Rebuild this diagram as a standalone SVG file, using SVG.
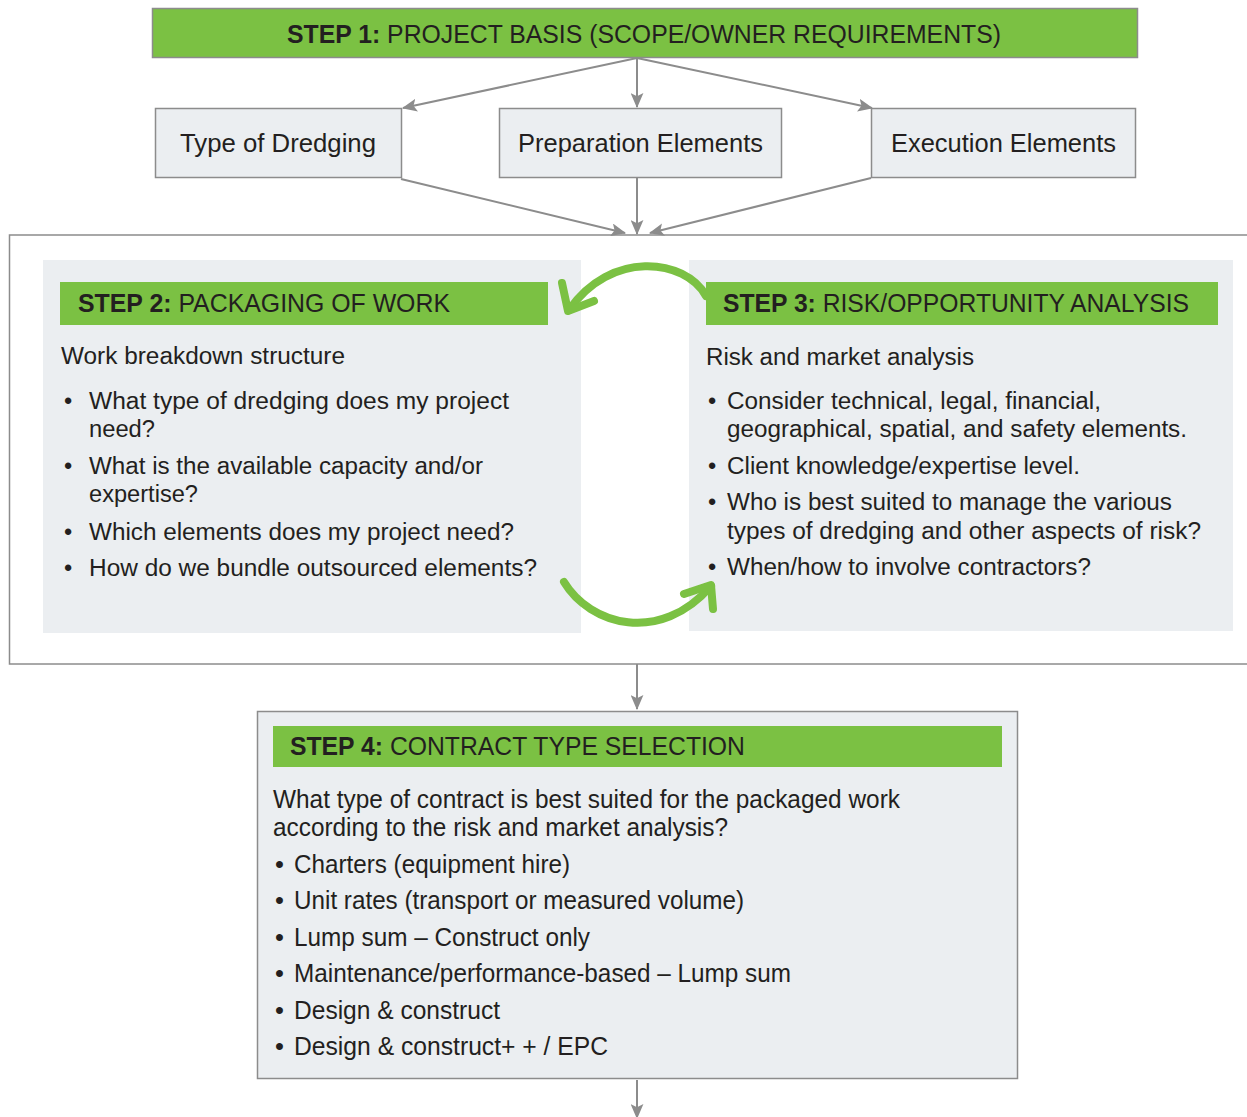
<svg xmlns="http://www.w3.org/2000/svg" width="1247" height="1117" viewBox="0 0 1247 1117">
<style>
text{font-family:"Liberation Sans",Arial,sans-serif;fill:#231f20;}
.hd{font-size:26px;}
.b{font-weight:bold;}
.lbl{font-size:26px;}
.bd{font-size:23.5px;}
.s4{font-size:25.5px;}
.box{fill:#ebeef1;stroke:#8c8c8c;stroke-width:1.5;}
.panel{fill:#ebeef1;}
.green{fill:#7bc143;}
.con{stroke:#8c8c8c;stroke-width:2;fill:none;}
.curve{stroke:#7bc143;stroke-width:8;fill:none;stroke-linecap:round;stroke-linejoin:round;}
</style>
<defs>
<marker id="ah" viewBox="0 0 14 12" refX="13" refY="6" markerWidth="15" markerHeight="13" markerUnits="userSpaceOnUse" orient="auto">
<path d="M0,0 L14,6 L0,12 L3,6 z" fill="#8c8c8c"/>
</marker>
</defs>
<rect width="1247" height="1117" fill="#ffffff"/>

<g id="outer-frame">
<rect x="9.5" y="235" width="1250" height="429" fill="#ffffff" stroke="#8c8c8c" stroke-width="1.5"/>
</g>

<g id="connectors">
<line class="con" x1="637" y1="58" x2="403" y2="108" marker-end="url(#ah)"/>
<line class="con" x1="637" y1="58" x2="637" y2="107" marker-end="url(#ah)"/>
<line class="con" x1="637" y1="58" x2="872" y2="108" marker-end="url(#ah)"/>
<line class="con" x1="401" y1="179" x2="625" y2="233" marker-end="url(#ah)"/>
<line class="con" x1="637" y1="177" x2="637" y2="234" marker-end="url(#ah)"/>
<line class="con" x1="871" y1="178" x2="650" y2="233" marker-end="url(#ah)"/>
<line class="con" x1="637" y1="664" x2="637" y2="709" marker-end="url(#ah)"/>
<line class="con" x1="637" y1="1080" x2="637" y2="1118" marker-end="url(#ah)"/>
</g>

<g id="step1">
<rect x="152.5" y="8.5" width="985" height="49" class="green" stroke="#8c8c8c" stroke-width="1.5"/>
<text class="hd" x="287" y="43" textLength="714" lengthAdjust="spacingAndGlyphs"><tspan class="b">STEP 1:</tspan> PROJECT BASIS (SCOPE/OWNER REQUIREMENTS)</text>
</g>

<g id="type-of-dredging">
<rect class="box" x="155.5" y="108.5" width="246" height="69"/>
<text class="lbl" x="180" y="152" textLength="196" lengthAdjust="spacingAndGlyphs">Type of Dredging</text>
</g>
<g id="preparation-elements">
<rect class="box" x="499.5" y="108.5" width="282" height="69"/>
<text class="lbl" x="518" y="152" textLength="245" lengthAdjust="spacingAndGlyphs">Preparation Elements</text>
</g>
<g id="execution-elements">
<rect class="box" x="871.5" y="108.5" width="264" height="69"/>
<text class="lbl" x="891" y="152" textLength="225" lengthAdjust="spacingAndGlyphs">Execution Elements</text>
</g>

<g id="step2">
<rect class="panel" x="43" y="260" width="538" height="373"/>
<rect class="green" x="60" y="282" width="488" height="43"/>
<text class="hd" x="78" y="312" textLength="372" lengthAdjust="spacingAndGlyphs"><tspan class="b">STEP 2:</tspan> PACKAGING OF WORK</text>
<text class="bd" x="61" y="364" textLength="284" lengthAdjust="spacingAndGlyphs">Work breakdown structure</text>
<text class="bd" x="64" y="409">•</text>
<text class="bd" x="89" y="409" textLength="420" lengthAdjust="spacingAndGlyphs">What type of dredging does my project</text>
<text class="bd" x="89" y="437" textLength="66" lengthAdjust="spacingAndGlyphs">need?</text>
<text class="bd" x="64" y="474">•</text>
<text class="bd" x="89" y="474" textLength="394" lengthAdjust="spacingAndGlyphs">What is the available capacity and/or</text>
<text class="bd" x="89" y="502" textLength="109" lengthAdjust="spacingAndGlyphs">expertise?</text>
<text class="bd" x="64" y="540">•</text>
<text class="bd" x="89" y="540" textLength="425" lengthAdjust="spacingAndGlyphs">Which elements does my project need?</text>
<text class="bd" x="64" y="576">•</text>
<text class="bd" x="89" y="576" textLength="448" lengthAdjust="spacingAndGlyphs">How do we bundle outsourced elements?</text>
</g>

<g id="step3">
<rect class="panel" x="689" y="260" width="544" height="371"/>
<rect class="green" x="706" y="282" width="512" height="43"/>
<text class="hd" x="723" y="312" textLength="466" lengthAdjust="spacingAndGlyphs"><tspan class="b">STEP 3:</tspan> RISK/OPPORTUNITY ANALYSIS</text>
<text class="bd" x="706" y="365" textLength="268" lengthAdjust="spacingAndGlyphs">Risk and market analysis</text>
<text class="bd" x="708" y="409">•</text>
<text class="bd" x="727" y="409" textLength="374" lengthAdjust="spacingAndGlyphs">Consider technical, legal, financial,</text>
<text class="bd" x="727" y="437" textLength="460" lengthAdjust="spacingAndGlyphs">geographical, spatial, and safety elements.</text>
<text class="bd" x="708" y="474">•</text>
<text class="bd" x="727" y="474" textLength="353" lengthAdjust="spacingAndGlyphs">Client knowledge/expertise level.</text>
<text class="bd" x="708" y="510">•</text>
<text class="bd" x="727" y="510" textLength="445" lengthAdjust="spacingAndGlyphs">Who is best suited to manage the various</text>
<text class="bd" x="727" y="539" textLength="474" lengthAdjust="spacingAndGlyphs">types of dredging and other aspects of risk?</text>
<text class="bd" x="708" y="575">•</text>
<text class="bd" x="727" y="575" textLength="364" lengthAdjust="spacingAndGlyphs">When/how to involve contractors?</text>
</g>

<g id="cycle-arrows">
<path class="curve" d="M706,296 C685,258 610,250 569,310"/>
<path class="curve" d="M562,283 L568,311 L594,301"/>
<path class="curve" d="M564,582 C590,625 660,645 711,586"/>
<path class="curve" d="M684,594 L711,585 L713,609"/>
</g>

<g id="step4">
<rect class="box" x="257.5" y="711.5" width="760" height="367"/>
<rect class="green" x="273" y="726" width="729" height="41"/>
<text class="hd" x="290" y="755" textLength="455" lengthAdjust="spacingAndGlyphs"><tspan class="b">STEP 4:</tspan> CONTRACT TYPE SELECTION</text>
<text class="s4" x="273" y="808" textLength="627" lengthAdjust="spacingAndGlyphs">What type of contract is best suited for the packaged work</text>
<text class="s4" x="273" y="836" textLength="455" lengthAdjust="spacingAndGlyphs">according to the risk and market analysis?</text>
<text class="s4" x="275" y="873">•</text>
<text class="s4" x="294" y="873" textLength="276" lengthAdjust="spacingAndGlyphs">Charters (equipment hire)</text>
<text class="s4" x="275" y="909">•</text>
<text class="s4" x="294" y="909" textLength="450" lengthAdjust="spacingAndGlyphs">Unit rates (transport or measured volume)</text>
<text class="s4" x="275" y="946">•</text>
<text class="s4" x="294" y="946" textLength="296" lengthAdjust="spacingAndGlyphs">Lump sum – Construct only</text>
<text class="s4" x="275" y="982">•</text>
<text class="s4" x="294" y="982" textLength="497" lengthAdjust="spacingAndGlyphs">Maintenance/performance-based – Lump sum</text>
<text class="s4" x="275" y="1019">•</text>
<text class="s4" x="294" y="1019" textLength="206" lengthAdjust="spacingAndGlyphs">Design &amp; construct</text>
<text class="s4" x="275" y="1055">•</text>
<text class="s4" x="294" y="1055" textLength="314" lengthAdjust="spacingAndGlyphs">Design &amp; construct+ + / EPC</text>
</g>
</svg>
